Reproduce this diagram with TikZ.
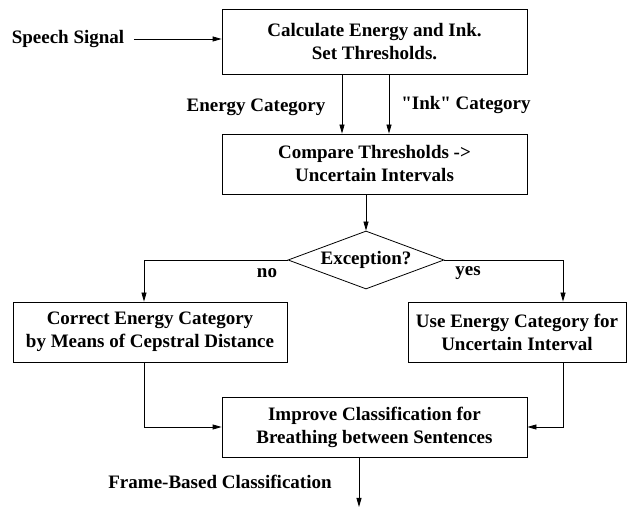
\documentclass[tikz,border=0pt]{standalone}
\usepackage{fontspec}
\setmainfont{Liberation Serif}[Ligatures=TeXOff]
\usetikzlibrary{shapes.geometric,arrows.meta}
\begin{document}
\begin{tikzpicture}[x=1pt, y=-1pt, font=\rmfamily\bfseries\fontsize{19}{23}\selectfont,
    box/.style={draw, line width=0.8pt, align=center, inner sep=0pt},
    arr/.style={line width=0.8pt, -{Triangle[length=9pt, width=5pt]}}]
    \useasboundingbox (0,0) rectangle (627,510);
    \node (sig) at (68,39) {Speech Signal};
    \node[box, minimum width=305pt, minimum height=65pt] (calc) at (374.5,41.5) {Calculate Energy and Ink.\\Set Thresholds.};
    \node[box, minimum width=305pt, minimum height=60pt] (cmp) at (374.5,164) {Compare Thresholds ->\\Uncertain Intervals};
    \node[draw, diamond, line width=0.8pt, aspect=2.7, inner sep=0pt, minimum width=156pt, minimum height=58pt] (dec) at (366,260) {Exception?};
    \node[box, minimum width=274pt, minimum height=60pt] (corr) at (150,332) {Correct Energy Category\\by Means of Cepstral Distance};
    \node[box, minimum width=218pt, minimum height=60pt] (use) at (517,332) {Use Energy Category for\\Uncertain Interval};
    \node[box, minimum width=305pt, minimum height=60pt] (impr) at (374.5,427) {Improve Classification for\\Breathing between Sentences};
    % labels
    \node (ecat) at (256,107) {Energy Category};
    \node (icat) at (466,105) {"Ink" Category};
    \node (no) at (267,273) {no};
    \node (yes) at (468,273) {yes};
    \node (fbc) at (220,482) {Frame-Based Classification};
    \coordinate (out) at (359,507);
    % connectors
    \draw[arr] ([xshift=6pt]sig.east) -- (sig.east -| calc.west);
    \draw[arr] ([xshift=-32.5pt]calc.south) -- ([xshift=-32.5pt]cmp.north);
    \draw[arr] ([xshift=14.5pt]calc.south) -- ([xshift=14.5pt]cmp.north);
    \draw[arr] (cmp.south -| dec.north) -- (dec.north);
    \draw[arr] (dec.west) -| ([xshift=-6pt]corr.north);
    \draw[arr] (dec.east) -| ([xshift=46pt]use.north);
    \draw[arr] ([xshift=-6pt]corr.south) |- (impr.west);
    \draw[arr] ([xshift=46pt]use.south) |- (impr.east);
    \draw[arr] (out |- impr.south) -- (out);
\end{tikzpicture}
\end{document}
